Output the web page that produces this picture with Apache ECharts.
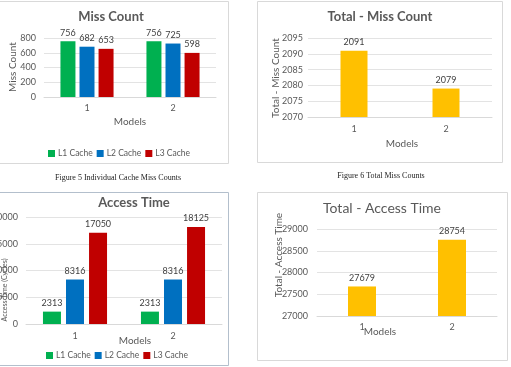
<!DOCTYPE html>
<html>
<head>
<meta charset="utf-8">
<script src="https://cdn.jsdelivr.net/npm/echarts@6/dist/echarts.min.js"></script>
<style>
  html, body { margin: 0; padding: 0; background: #fff; }
  #chart { width: 511px; height: 367px; }
</style>
</head>
<body>
<div id="chart"></div>
<script>
// data
const categories = ['1', '2']
const seriesNames = ['L1 Cache', 'L2 Cache', 'L3 Cache']

const missL1 = [756, 756]
const missL2 = [682, 725]
const missL3 = [653, 598]
const totalMiss = [2091, 2079]

const accessL1 = [2313, 2313]
const accessL2 = [8316, 8316]
const accessL3 = [17050, 18125]
const totalAccess = [27679, 28754]

// [min, max, interval] for each value axis
const missTicks = [0, 800, 200]
const totalMissTicks = [2070, 2095, 5]
const accessTicks = [0, 20000, 5000]
const totalAccessTicks = [27000, 29000, 500]

const GREEN = '#00b050'
const BLUE = '#0070c0'
const RED = '#c00000'
const GOLD = '#ffc000'
const FONT = 'Lato'
const GRAY = '#595959'

const chart = echarts.init(document.getElementById('chart'))

function xAxis(gridIndex, margin) {
  return {
    type: 'category',
    gridIndex: gridIndex,
    data: categories,
    axisTick: { show: false },
    axisLine: { lineStyle: { color: '#d9d9d9' } },
    axisLabel: { color: GRAY, fontSize: 9, fontFamily: FONT, margin: margin }
  }
}

function yAxis(gridIndex, ticks, margin) {
  return {
    type: 'value',
    gridIndex: gridIndex,
    min: ticks[0],
    max: ticks[1],
    interval: ticks[2],
    axisLine: { show: false },
    axisTick: { show: false },
    splitLine: { lineStyle: { color: '#e3e3e3' } },
    axisLabel: {
      color: GRAY, fontSize: 9, fontFamily: FONT, margin: margin,
      formatter: (v) => String(v) // no thousands separator, like Excel
    }
  }
}

function bar(name, data, axisIndex, color, width, gap) {
  return {
    name: name,
    type: 'bar',
    xAxisIndex: axisIndex,
    yAxisIndex: axisIndex,
    data: data,
    barWidth: width,
    barGap: gap,
    itemStyle: { color: color },
    label: {
      show: true,
      position: 'top',
      distance: 4,
      color: '#404040',
      fontSize: 9,
      fontFamily: FONT
    }
  }
}

function text(str, x, y, size, opts) {
  opts = opts || {}
  return {
    type: 'text',
    x: x,
    y: y,
    rotation: opts.rotate ? Math.PI / 2 : 0,
    z: 10,
    style: {
      text: str,
      align: 'center',
      verticalAlign: 'middle',
      fill: opts.color || GRAY,
      font: (opts.bold ? 'bold ' : '') + size + 'px ' + (opts.family || FONT)
    }
  }
}

function frame(x, y, w, h, color) {
  return {
    type: 'rect',
    z: 0,
    shape: { x: x + 0.5, y: y + 0.5, width: w, height: h },
    style: { fill: 'none', stroke: color, lineWidth: 1 }
  }
}

function legend(left, top) {
  return {
    left: left, top: top,
    data: seriesNames,
    icon: 'rect', itemWidth: 7, itemHeight: 7, itemGap: 4,
    textStyle: { color: GRAY, fontSize: 8.5, fontFamily: FONT, padding: [0, 0, 0, -2] }
  }
}

const option = {
  backgroundColor: '#fff',
  animation: false,
  grid: [
    { left: 44, right: 295, top: 38, height: 59, outerBoundsMode: 'none' },
    { left: 308, right: 19, top: 38, height: 79, outerBoundsMode: 'none' },
    { left: 26, right: 289, top: 217, height: 107, outerBoundsMode: 'none' },
    { left: 317, right: 14, top: 229, height: 87, outerBoundsMode: 'none' }
  ],
  xAxis: [xAxis(0, 7), xAxis(1, 8), xAxis(2, 8), xAxis(3, 7)],
  yAxis: [
    yAxis(0, missTicks, 8),
    yAxis(1, totalMissTicks, 5),
    yAxis(2, accessTicks, 8),
    yAxis(3, totalAccessTicks, 9)
  ],
  legend: [legend(43, 144), legend(41, 346)],
  series: [
    bar('L1 Cache', missL1, 0, GREEN, 15, '27%'),
    bar('L2 Cache', missL2, 0, BLUE, 15, '27%'),
    bar('L3 Cache', missL3, 0, RED, 15, '27%'),
    bar('Total - Miss Count', totalMiss, 1, GOLD, 27, '0%'),
    bar('L1 Cache', accessL1, 2, GREEN, 18, '28%'),
    bar('L2 Cache', accessL2, 2, BLUE, 18, '28%'),
    bar('L3 Cache', accessL3, 2, RED, 18, '28%'),
    bar('Total - Access Time', totalAccess, 3, GOLD, 28, '0%')
  ],
  graphic: [
    frame(-1, 1, 229, 162, '#d9d9d9'),
    frame(257, 1, 245, 161, '#d9d9d9'),
    frame(-1, 192, 229, 173, '#b3bfcc'),
    frame(257, 192, 250, 168, '#d9d9d9'),

    text('Miss Count', 111, 17, 13, { bold: true }),
    text('Total - Miss Count', 380, 17, 13, { bold: true }),
    text('Access Time', 134, 203, 13, { bold: true }),
    text('Total - Access Time', 382, 208, 14),

    text('Miss Count', 13, 67, 10, { rotate: true }),
    text('Total - Miss Count', 276, 78, 10, { rotate: true }),
    text('Access Time (Cycles)', 5, 290, 7, { rotate: true }),
    text('Total - Access Time', 279, 255, 10, { rotate: true }),

    text('Models', 130, 122, 10),
    text('Models', 402, 144, 10),
    text('Models', 135, 341, 10),
    text('Models', 380, 332, 10),

    text('Figure 5 Individual Cache Miss Counts', 118, 178, 8, { family: 'Liberation Serif', color: '#222' }),
    text('Figure 6 Total Miss Counts', 381, 176, 8, { family: 'Liberation Serif', color: '#222' })
  ]
}

chart.setOption(option)

window.addEventListener('resize', () => {
  chart.resize()
})
</script>
</body>
</html>
